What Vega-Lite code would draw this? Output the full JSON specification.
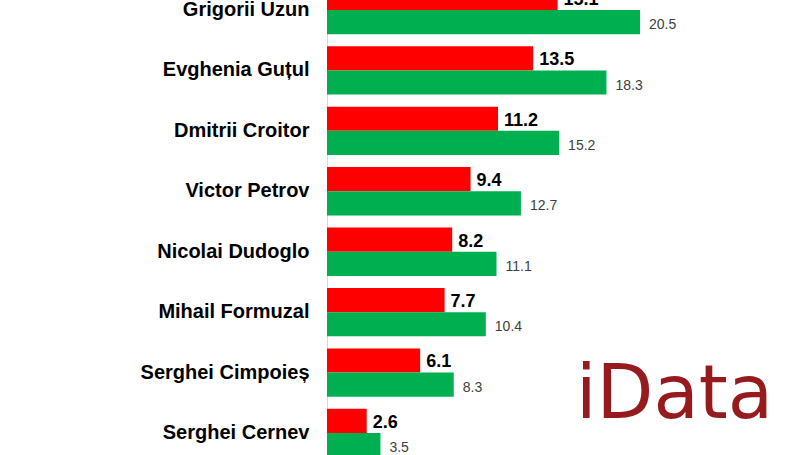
{
  "$schema": "https://vega.github.io/schema/vega-lite/v6.json",
  "width": 483,
  "height": 455,
  "autosize": "none",
  "padding": {"left": 327, "top": 0, "right": 0, "bottom": 0},
  "background": "white",
  "config": {"view": {"stroke": null}, "font": "Liberation Sans"},
  "data": {
    "values": [
      {"name": "Grigorii Uzun", "series": "Total", "value": 15.1},
      {"name": "Grigorii Uzun", "series": "Decided", "value": 20.5},
      {"name": "Evghenia Guțul", "series": "Total", "value": 13.5},
      {"name": "Evghenia Guțul", "series": "Decided", "value": 18.3},
      {"name": "Dmitrii Croitor", "series": "Total", "value": 11.2},
      {"name": "Dmitrii Croitor", "series": "Decided", "value": 15.2},
      {"name": "Victor Petrov", "series": "Total", "value": 9.4},
      {"name": "Victor Petrov", "series": "Decided", "value": 12.7},
      {"name": "Nicolai Dudoglo", "series": "Total", "value": 8.2},
      {"name": "Nicolai Dudoglo", "series": "Decided", "value": 11.1},
      {"name": "Mihail Formuzal", "series": "Total", "value": 7.7},
      {"name": "Mihail Formuzal", "series": "Decided", "value": 10.4},
      {"name": "Serghei Cimpoieș", "series": "Total", "value": 6.1},
      {"name": "Serghei Cimpoieș", "series": "Decided", "value": 8.3},
      {"name": "Serghei Cernev", "series": "Total", "value": 2.6},
      {"name": "Serghei Cernev", "series": "Decided", "value": 3.5}
    ]
  },
  "encoding": {
    "y": {
      "field": "name",
      "type": "nominal",
      "sort": null,
      "scale": {"range": [-20.2, 463.2], "paddingInner": 0.2, "paddingOuter": 0.1},
      "axis": {
        "title": null,
        "ticks": false,
        "domainColor": "#D9D9D9",
        "domainWidth": 1,
        "labelFont": "Liberation Sans",
        "labelFontWeight": "bold",
        "labelFontSize": 20,
        "labelColor": "#000000",
        "labelPadding": 18,
        "labelLimit": 300
      }
    },
    "x": {
      "field": "value",
      "type": "quantitative",
      "scale": {"domain": [0, 31.63], "nice": false, "zero": true},
      "axis": null
    }
  },
  "layer": [
    {
      "mark": {"type": "bar"},
      "encoding": {
        "yOffset": {"field": "series", "type": "nominal", "sort": ["Total", "Decided"], "scale": {"paddingInner": 0, "paddingOuter": 0}},
        "color": {
          "field": "series",
          "type": "nominal",
          "scale": {"domain": ["Total", "Decided"], "range": ["#FF0000", "#00B050"]},
          "legend": null
        }
      }
    },
    {
      "transform": [{"filter": "datum.series === 'Total'"}],
      "mark": {"type": "text", "align": "left", "baseline": "middle", "dx": 6, "dy": 2, "fontSize": 18, "fontWeight": "bold", "color": "#000000", "font": "Liberation Sans"},
      "encoding": {
        "yOffset": {"field": "series", "type": "nominal", "sort": ["Total", "Decided"], "scale": {"paddingInner": 0, "paddingOuter": 0}},
        "text": {"field": "value", "type": "quantitative", "format": ".1f"}
      }
    },
    {
      "transform": [{"filter": "datum.series === 'Decided'"}],
      "mark": {"type": "text", "align": "left", "baseline": "middle", "dx": 9, "dy": 3, "fontSize": 14, "color": "#404040", "font": "Liberation Sans"},
      "encoding": {
        "yOffset": {"field": "series", "type": "nominal", "sort": ["Total", "Decided"], "scale": {"paddingInner": 0, "paddingOuter": 0}},
        "text": {"field": "value", "type": "quantitative", "format": ".1f"}
      }
    },
    {
      "data": {"values": [{"name": "Serghei Cimpoieș", "value": 22.76, "label": "iData"}]},
      "mark": {"type": "text", "align": "center", "baseline": "alphabetic", "dy": 45, "fontSize": 74, "font": "DejaVu Sans", "color": "#951B1E"},
      "encoding": {
        "text": {"field": "label", "type": "nominal"}
      }
    }
  ]
}
